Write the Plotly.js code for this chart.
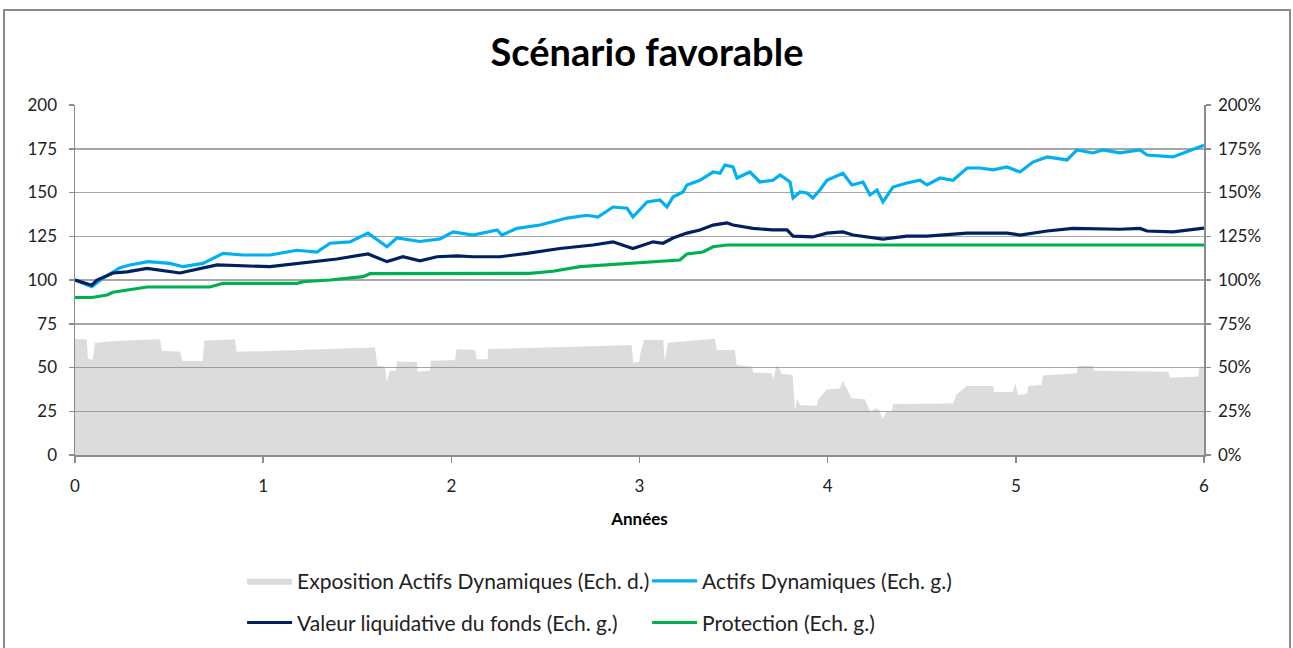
<!DOCTYPE html>
<html>
<head>
<meta charset="utf-8">
<script src="https://cdn.plot.ly/plotly-3.0.1.min.js"></script>
<style>
  body { margin: 0; background: #fff; overflow: hidden; }
  #cadre { position: absolute; left: 3px; top: 9px; width: 1284px; height: 680px; border: 2px solid #8c8c8c; }
  #graphique { width: 1284px; height: 670px; }
</style>
</head>
<body>
<div id="cadre"><div id="graphique"></div></div>
<script>
// Actifs Dynamiques (échelle gauche)
const anneesActifs = [0, 0.089, 0.149, 0.239, 0.292, 0.388, 0.505, 0.574, 0.680, 0.787, 0.893, 1.036, 1.180, 1.286, 1.355, 1.461, 1.557, 1.658, 1.711, 1.833, 1.940, 2.009, 2.115, 2.243, 2.269, 2.349, 2.471, 2.615, 2.721, 2.779, 2.859, 2.934, 2.965, 3.040, 3.109, 3.146, 3.178, 3.231, 3.252, 3.321, 3.391, 3.428, 3.454, 3.497, 3.518, 3.587, 3.640, 3.709, 3.747, 3.800, 3.816, 3.853, 3.890, 3.921, 3.959, 3.996, 4.081, 4.129, 4.188, 4.225, 4.262, 4.294, 4.347, 4.421, 4.491, 4.528, 4.597, 4.666, 4.741, 4.810, 4.879, 4.953, 5.022, 5.091, 5.166, 5.272, 5.325, 5.410, 5.463, 5.553, 5.660, 5.697, 5.835, 5.909, 6.0];
const actifs = [100, 96.2, 101, 107, 108.6, 110.5, 109.5, 107.6, 109.5, 115.2, 114.3, 114.3, 117, 116, 121, 121.8, 126.8, 119, 124, 122, 123.5, 127.5, 125.7, 128.6, 125.7, 129.5, 131.4, 135.4, 137, 136, 141.7, 141, 136, 144.6, 145.7, 141.7, 147.4, 150.3, 154.3, 157, 161.7, 161, 165.7, 164.6, 158.3, 161.7, 156, 157, 160, 156, 146.9, 150.3, 149.7, 146.9, 151.4, 157, 161, 154.3, 156, 148.6, 151.4, 144.6, 153.1, 155.4, 157, 154.3, 158.3, 157, 164, 164, 162.9, 164.6, 161.7, 167.4, 170.3, 168.6, 174.3, 172.6, 174.3, 172.6, 174.3, 171.4, 170.3, 173.1, 177];

// Valeur liquidative du fonds (échelle gauche)
const anneesVL = [0, 0.089, 0.117, 0.202, 0.276, 0.383, 0.558, 0.755, 1.036, 1.212, 1.392, 1.557, 1.658, 1.743, 1.833, 1.924, 2.030, 2.115, 2.259, 2.402, 2.577, 2.753, 2.859, 2.965, 3.072, 3.125, 3.178, 3.252, 3.321, 3.391, 3.465, 3.497, 3.603, 3.709, 3.784, 3.816, 3.921, 3.996, 4.081, 4.135, 4.209, 4.294, 4.421, 4.528, 4.741, 4.953, 5.022, 5.166, 5.304, 5.553, 5.660, 5.697, 5.835, 6.0];
const valeurLiquidative = [100, 97, 100, 104, 104.6, 106.6, 104, 108.6, 107.6, 109.7, 112, 114.9, 110.5, 113.3, 111, 113.3, 113.8, 113.3, 113.3, 115.2, 118, 120, 121.8, 118, 121.8, 121, 124, 126.8, 128.6, 131.4, 132.6, 131.4, 129.5, 128.6, 128.6, 125.1, 124.6, 126.8, 127.5, 125.7, 124.6, 123.4, 125.1, 125.1, 126.8, 126.8, 125.7, 128, 129.5, 129, 129.5, 128, 127.5, 129.7];

// Protection (échelle gauche)
const anneesProtection = [0, 0.09, 0.17, 0.202, 0.383, 0.717, 0.787, 1.180, 1.212, 1.355, 1.531, 1.568, 2.418, 2.540, 2.684, 2.859, 3.072, 3.215, 3.252, 3.337, 3.391, 3.465, 6.0];
const protection = [90, 90, 91.4, 93, 96, 96, 98.1, 98.1, 99, 100, 101.9, 103.6, 103.8, 105, 107.6, 109, 110.3, 111.4, 114.9, 116, 119, 120, 120];

// Exposition Actifs Dynamiques en % (échelle droite)
const anneesExpo = [0, 0.062, 0.069, 0.094, 0.106, 0.239, 0.452, 0.461, 0.558, 0.572, 0.679, 0.687, 0.850, 0.859, 1.036, 1.391, 1.594, 1.607, 1.647, 1.656, 1.674, 1.706, 1.710, 1.816, 1.821, 1.887, 1.892, 2.019, 2.028, 2.126, 2.135, 2.193, 2.196, 2.471, 2.958, 2.967, 2.999, 3.006, 3.024, 3.126, 3.135, 3.150, 3.401, 3.410, 3.507, 3.516, 3.596, 3.605, 3.702, 3.711, 3.720, 3.729, 3.747, 3.756, 3.814, 3.826, 3.839, 3.853, 3.942, 3.950, 3.995, 4.065, 4.080, 4.101, 4.128, 4.198, 4.225, 4.260, 4.278, 4.292, 4.310, 4.340, 4.349, 4.668, 4.682, 4.739, 4.880, 4.884, 4.985, 4.996, 5.013, 5.061, 5.066, 5.137, 5.143, 5.323, 5.332, 5.412, 5.415, 5.810, 5.819, 5.970, 5.975, 6.0];
const exposition = [66.3, 66, 55.2, 54.3, 64.2, 65.3, 66.1, 59.6, 59, 53.7, 53.7, 65.3, 66.1, 59, 59.4, 60.6, 61.5, 51, 50.5, 41.9, 48.2, 48.2, 53.5, 53.1, 47.6, 48.2, 53.9, 54.3, 60.4, 60, 54.7, 54.7, 60.6, 61.3, 62.9, 52.8, 53.3, 59, 65.7, 65.7, 53.3, 64.2, 66.5, 60, 60, 51.4, 50.5, 47.2, 46.7, 43.4, 46.7, 51.4, 48.6, 46.3, 45.7, 25.7, 31.8, 28.6, 28, 31.8, 37.5, 38, 42.5, 38, 32.4, 31.8, 24.8, 26.7, 24.8, 20.4, 24.4, 25, 29.1, 29.5, 34.3, 39.4, 39.4, 36, 36, 41, 34.3, 34.9, 39.4, 40, 45.5, 46.7, 51, 50.9, 48.2, 47.6, 44.2, 44.8, 50.5, 50.5];

const police = 'Lato, "Open Sans", sans-serif';

const traces = [
    {
        x: anneesExpo, y: exposition, yaxis: 'y2',
        name: 'Exposition Actifs Dynamiques (Ech. d.)',
        type: 'scatter', mode: 'lines', fill: 'tozeroy',
        line: { width: 0, color: 'rgba(140,140,140,0.3)' },
        fillcolor: 'rgba(140,140,140,0.3)',
        legend: 'legend'
    },
    {
        x: anneesActifs, y: actifs,
        name: 'Actifs Dynamiques (Ech. g.)',
        type: 'scatter', mode: 'lines',
        line: { color: '#00b0f0', width: 3.2 },
        legend: 'legend'
    },
    {
        x: anneesVL, y: valeurLiquidative,
        name: 'Valeur liquidative du fonds (Ech. g.)',
        type: 'scatter', mode: 'lines',
        line: { color: '#002060', width: 3.2 },
        legend: 'legend2'
    },
    {
        x: anneesProtection, y: protection,
        name: 'Protection (Ech. g.)',
        type: 'scatter', mode: 'lines',
        line: { color: '#00b050', width: 3.2 },
        legend: 'legend2'
    }
];

const legendeCommune = {
    orientation: 'h',
    x: 0.148, xanchor: 'left',
    itemwidth: 45,
    entrywidth: 345, entrywidthmode: 'pixels',
    font: { family: police, size: 21, color: '#222' },
    bgcolor: 'rgba(0,0,0,0)'
};

const layout = {
    width: 1284,
    height: 670,
    margin: { l: 70, r: 85, t: 94, b: 226 },
    paper_bgcolor: '#ffffff',
    plot_bgcolor: '#ffffff',
    font: { family: police, color: '#222' },
    title: {
        text: '<b>Scénario favorable</b>',
        font: { family: police, size: 38, color: '#000' },
        x: 0.5, xanchor: 'center',
        y: 0.938, yref: 'container', yanchor: 'middle'
    },
    xaxis: {
        range: [0, 6], dtick: 1,
        showgrid: false, zeroline: false,
        showline: true, linecolor: '#8c8c8c', linewidth: 1.5,
        ticks: 'outside', ticklen: 6, tickcolor: '#8c8c8c', tickwidth: 1.5,
        ticklabelstandoff: 9,
        tickfont: { family: police, size: 17, color: '#222' },
        title: { text: '<b>Années</b>', font: { family: police, size: 17, color: '#000' }, standoff: 18 }
    },
    yaxis: {
        range: [0, 200], dtick: 25,
        showgrid: true, gridcolor: '#a6a6a6', gridwidth: 1.5,
        zeroline: false,
        showline: true, linecolor: '#8c8c8c', linewidth: 1.5,
        ticks: 'outside', ticklen: 5, tickcolor: '#8c8c8c', tickwidth: 1.5,
        ticklabelstandoff: 8,
        tickfont: { family: police, size: 17, color: '#222' }
    },
    yaxis2: {
        range: [0, 200], dtick: 25, ticksuffix: '%',
        overlaying: 'y', side: 'right',
        showgrid: false, zeroline: false,
        showline: true, linecolor: '#8c8c8c', linewidth: 1.5,
        ticks: 'outside', ticklen: 5, tickcolor: '#8c8c8c', tickwidth: 1.5,
        ticklabelstandoff: 4,
        tickfont: { family: police, size: 17, color: '#222' }
    },
    legend: Object.assign({}, legendeCommune, { y: -0.302, yanchor: 'top' }),
    legend2: Object.assign({}, legendeCommune, { y: -0.421, yanchor: 'top' }),
    showlegend: true
};

Plotly.newPlot('graphique', traces, layout, { displayModeBar: false, staticPlot: true });
</script>
</body>
</html>
